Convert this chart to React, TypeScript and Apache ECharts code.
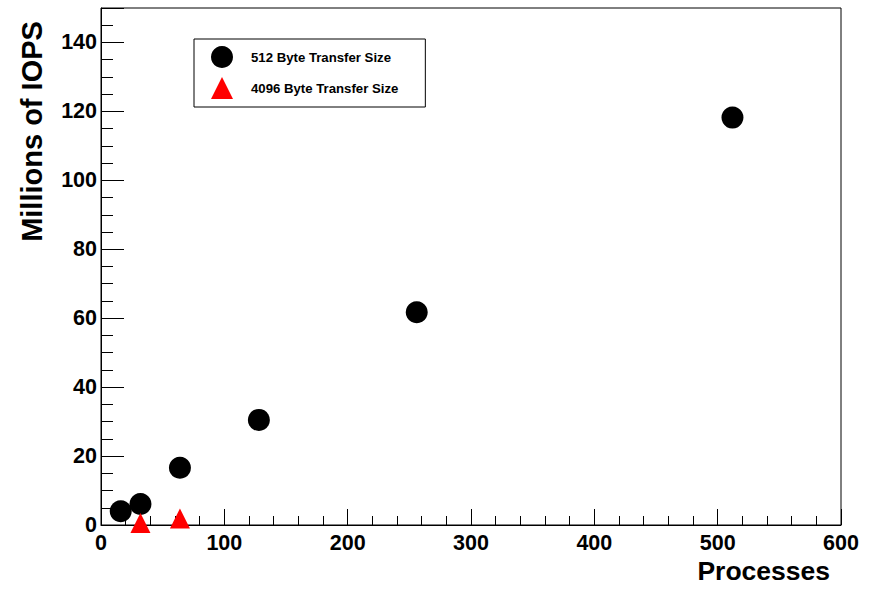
import React, { useEffect, useRef } from "react";
import * as echarts from "echarts";

// ---- data ----
const seriesNames = ["512 Byte Transfer Size", "4096 Byte Transfer Size"];
const processes512 = [16, 32, 64, 128, 256, 512];
const iops512 = [4.0, 6.1, 16.6, 30.5, 61.7, 118.2];
const processes4096 = [32, 64];
const iops4096 = [0.6, 1.9];
const xTitle = "Processes";
const yTitle = "Millions of IOPS";

const FONT = "'Liberation Sans', Arial, Helvetica, sans-serif";

export default function App() {
  const ref = useRef<HTMLDivElement>(null);

  useEffect(() => {
    if (!ref.current) return;
    const chart = echarts.init(ref.current, undefined, { renderer: "svg" });
    const lineStyle = { color: "#000", width: 1 };
    const option: any = {
      animation: false,
      backgroundColor: "#fff",
      grid: {
        left: 101,
        top: 8,
        right: 34,
        bottom: 65,
        show: true,
        borderColor: "#000",
        borderWidth: 1,
        backgroundColor: "transparent",
      },
      legend: {
        left: 194,
        top: 39,
        orient: "vertical",
        padding: [7, 27, 8, 17],
        itemWidth: 22,
        itemHeight: 22,
        itemGap: 9,
        borderColor: "#000",
        borderWidth: 1,
        backgroundColor: "#fff",
        selectedMode: false,
        itemStyle: { opacity: 1 },
        textStyle: {
          fontFamily: FONT,
          fontWeight: "bold",
          fontSize: 13.2,
          color: "#000",
          padding: [0, 0, 0, 13],
        },
        data: [
          { name: seriesNames[0], icon: "circle" },
          { name: seriesNames[1], icon: "triangle" },
        ],
      },
      xAxis: {
        type: "value",
        min: 0,
        max: 600,
        interval: 100,
        axisLine: { show: true, lineStyle },
        axisTick: { show: true, inside: true, length: 16, lineStyle },
        minorTick: { show: true, splitNumber: 5, length: 9, lineStyle },
        splitLine: { show: false },
        minorSplitLine: { show: false },
        axisLabel: {
          margin: 7,
          fontFamily: FONT,
          fontWeight: "bold",
          fontSize: 21.5,
          color: "#000",
        },
      },
      yAxis: [
        {
          type: "value",
          min: 0,
          max: 150,
          interval: 20,
          axisLine: { show: true, lineStyle },
          axisTick: { show: true, inside: true, length: 23, lineStyle },
          splitLine: { show: false },
          axisLabel: {
            margin: 4,
            fontFamily: FONT,
            fontWeight: "bold",
            fontSize: 21.5,
            color: "#000",
            formatter: (v: number) => (v > 140 ? "" : String(v)),
          },
        },
        {
          type: "value",
          min: 0,
          max: 150,
          interval: 5,
          position: "left",
          axisLine: { show: false },
          axisTick: { show: true, inside: true, length: 12, lineStyle },
          axisLabel: { show: false },
          splitLine: { show: false },
        },
      ],
      graphic: [
        {
          type: "text",
          x: 31.5,
          y: 131.5,
          rotation: Math.PI / 2,
          style: {
            text: yTitle,
            fontFamily: FONT,
            fontWeight: "bold",
            fontSize: 29,
            fill: "#000",
            textAlign: "center",
            textVerticalAlign: "middle",
          },
        },
        {
          type: "text",
          x: 830,
          y: 571,
          style: {
            text: xTitle,
            fontFamily: FONT,
            fontWeight: "bold",
            fontSize: 26.5,
            fill: "#000",
            textAlign: "right",
            textVerticalAlign: "middle",
          },
        },
      ],
      series: [
        {
          name: seriesNames[0],
          type: "scatter",
          xAxisIndex: 0,
          yAxisIndex: 0,
          symbol: "circle",
          symbolSize: 22,
          itemStyle: { color: "#000", opacity: 1 },
          emphasis: { disabled: true },
          data: processes512.map((x, i) => [x, iops512[i]]),
        },
        {
          name: seriesNames[1],
          type: "scatter",
          xAxisIndex: 0,
          yAxisIndex: 0,
          symbol: "triangle",
          symbolSize: 20,
          itemStyle: { color: "#ff0000", opacity: 1 },
          emphasis: { disabled: true },
          data: processes4096.map((x, i) => [x, iops4096[i]]),
        },
      ],
    };
    chart.setOption(option);
    return () => chart.dispose();
  }, []);

  return (
    <div
      ref={ref}
      style={{ position: "fixed", left: 0, top: 0, width: 875, height: 590, background: "#fff" }}
    />
  );
}
